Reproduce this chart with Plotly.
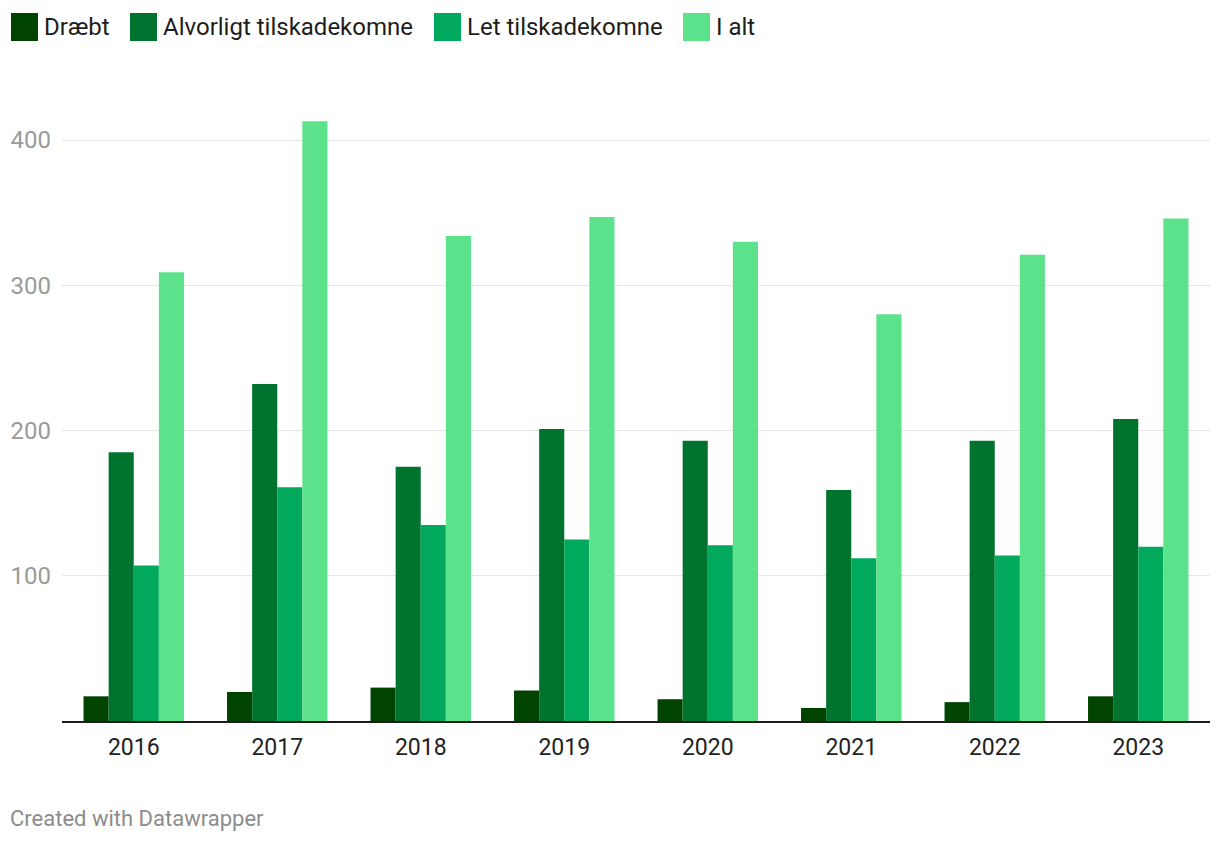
import plotly.graph_objects as go

years = ["2016", "2017", "2018", "2019", "2020", "2021", "2022", "2023"]
draebt = [17, 20, 23, 21, 15, 9, 13, 17]
alvorligt = [185, 232, 175, 201, 193, 159, 193, 208]
let_tilskade = [107, 161, 135, 125, 121, 112, 114, 120]
i_alt = [309, 413, 334, 347, 330, 280, 321, 346]

series_names = ["Dræbt", "Alvorligt tilskadekomne", "Let tilskadekomne", "I alt"]
series_values = [draebt, alvorligt, let_tilskade, i_alt]
series_colors = ["#004400", "#00742f", "#00a95b", "#5ce28b"]

y_ticks = [100, 200, 300, 400]

W, H = 1220, 844
L, R, T, B = 62, 10, 82, 123
PW, PH = W - L - R, H - T - B

def px_x(px):
    return (px - L) / PW

def px_y(py):
    return (H - B - py) / PH

fig = go.Figure()
for name, vals, col in zip(series_names, series_values, series_colors):
    fig.add_trace(go.Bar(x=years, y=vals, name=name, marker=dict(color=col, line=dict(width=0)),
                         showlegend=False))

# custom legend (Datawrapper style)
legend_x = [11, 130, 434, 683]
shapes = []
annotations = []
for name, col, lx in zip(series_names, series_colors, legend_x):
    shapes.append(dict(type="rect", xref="paper", yref="paper",
                       x0=px_x(lx), x1=px_x(lx + 27), y0=px_y(41), y1=px_y(13),
                       fillcolor=col, line=dict(width=0), layer="above"))
    annotations.append(dict(text=name, xref="paper", yref="paper",
                            x=px_x(lx + 31), y=px_y(27), xanchor="left", yanchor="middle",
                            showarrow=False, font=dict(family="Roboto", size=24, color="#1d1d1d")))

annotations.append(dict(text="Created with Datawrapper", xref="paper", yref="paper",
                        x=px_x(8), y=px_y(818), xanchor="left", yanchor="middle",
                        showarrow=False, font=dict(family="Roboto", size=22, color="#8c8c8c")))

fig.update_layout(
    width=W, height=H,
    margin=dict(l=L, r=R, t=T, b=B, autoexpand=False),
    paper_bgcolor="white", plot_bgcolor="white",
    barmode="group", bargap=0.30, bargroupgap=0,
    font=dict(family="Roboto"),
    shapes=shapes, annotations=annotations,
    xaxis=dict(type="category", showgrid=False, showline=True, linecolor="#1d1d1d", linewidth=2,
               ticks="", ticklabelstandoff=4,
               tickfont=dict(family="Roboto", size=23, color="#222222"), zeroline=False),
    yaxis=dict(range=[0, 440], tickvals=y_ticks, ticktext=[str(v) for v in y_ticks],
               showgrid=True, gridcolor="#e5e5e5", gridwidth=1, zeroline=False, showline=False,
               ticks="", ticklabelstandoff=10,
               tickfont=dict(family="Roboto", size=24, color="#9a9a9a")),
)

fig.write_html("out.html", config={"displayModeBar": False},
               post_script="document.body.style.margin='0';document.body.style.overflow='hidden';")
